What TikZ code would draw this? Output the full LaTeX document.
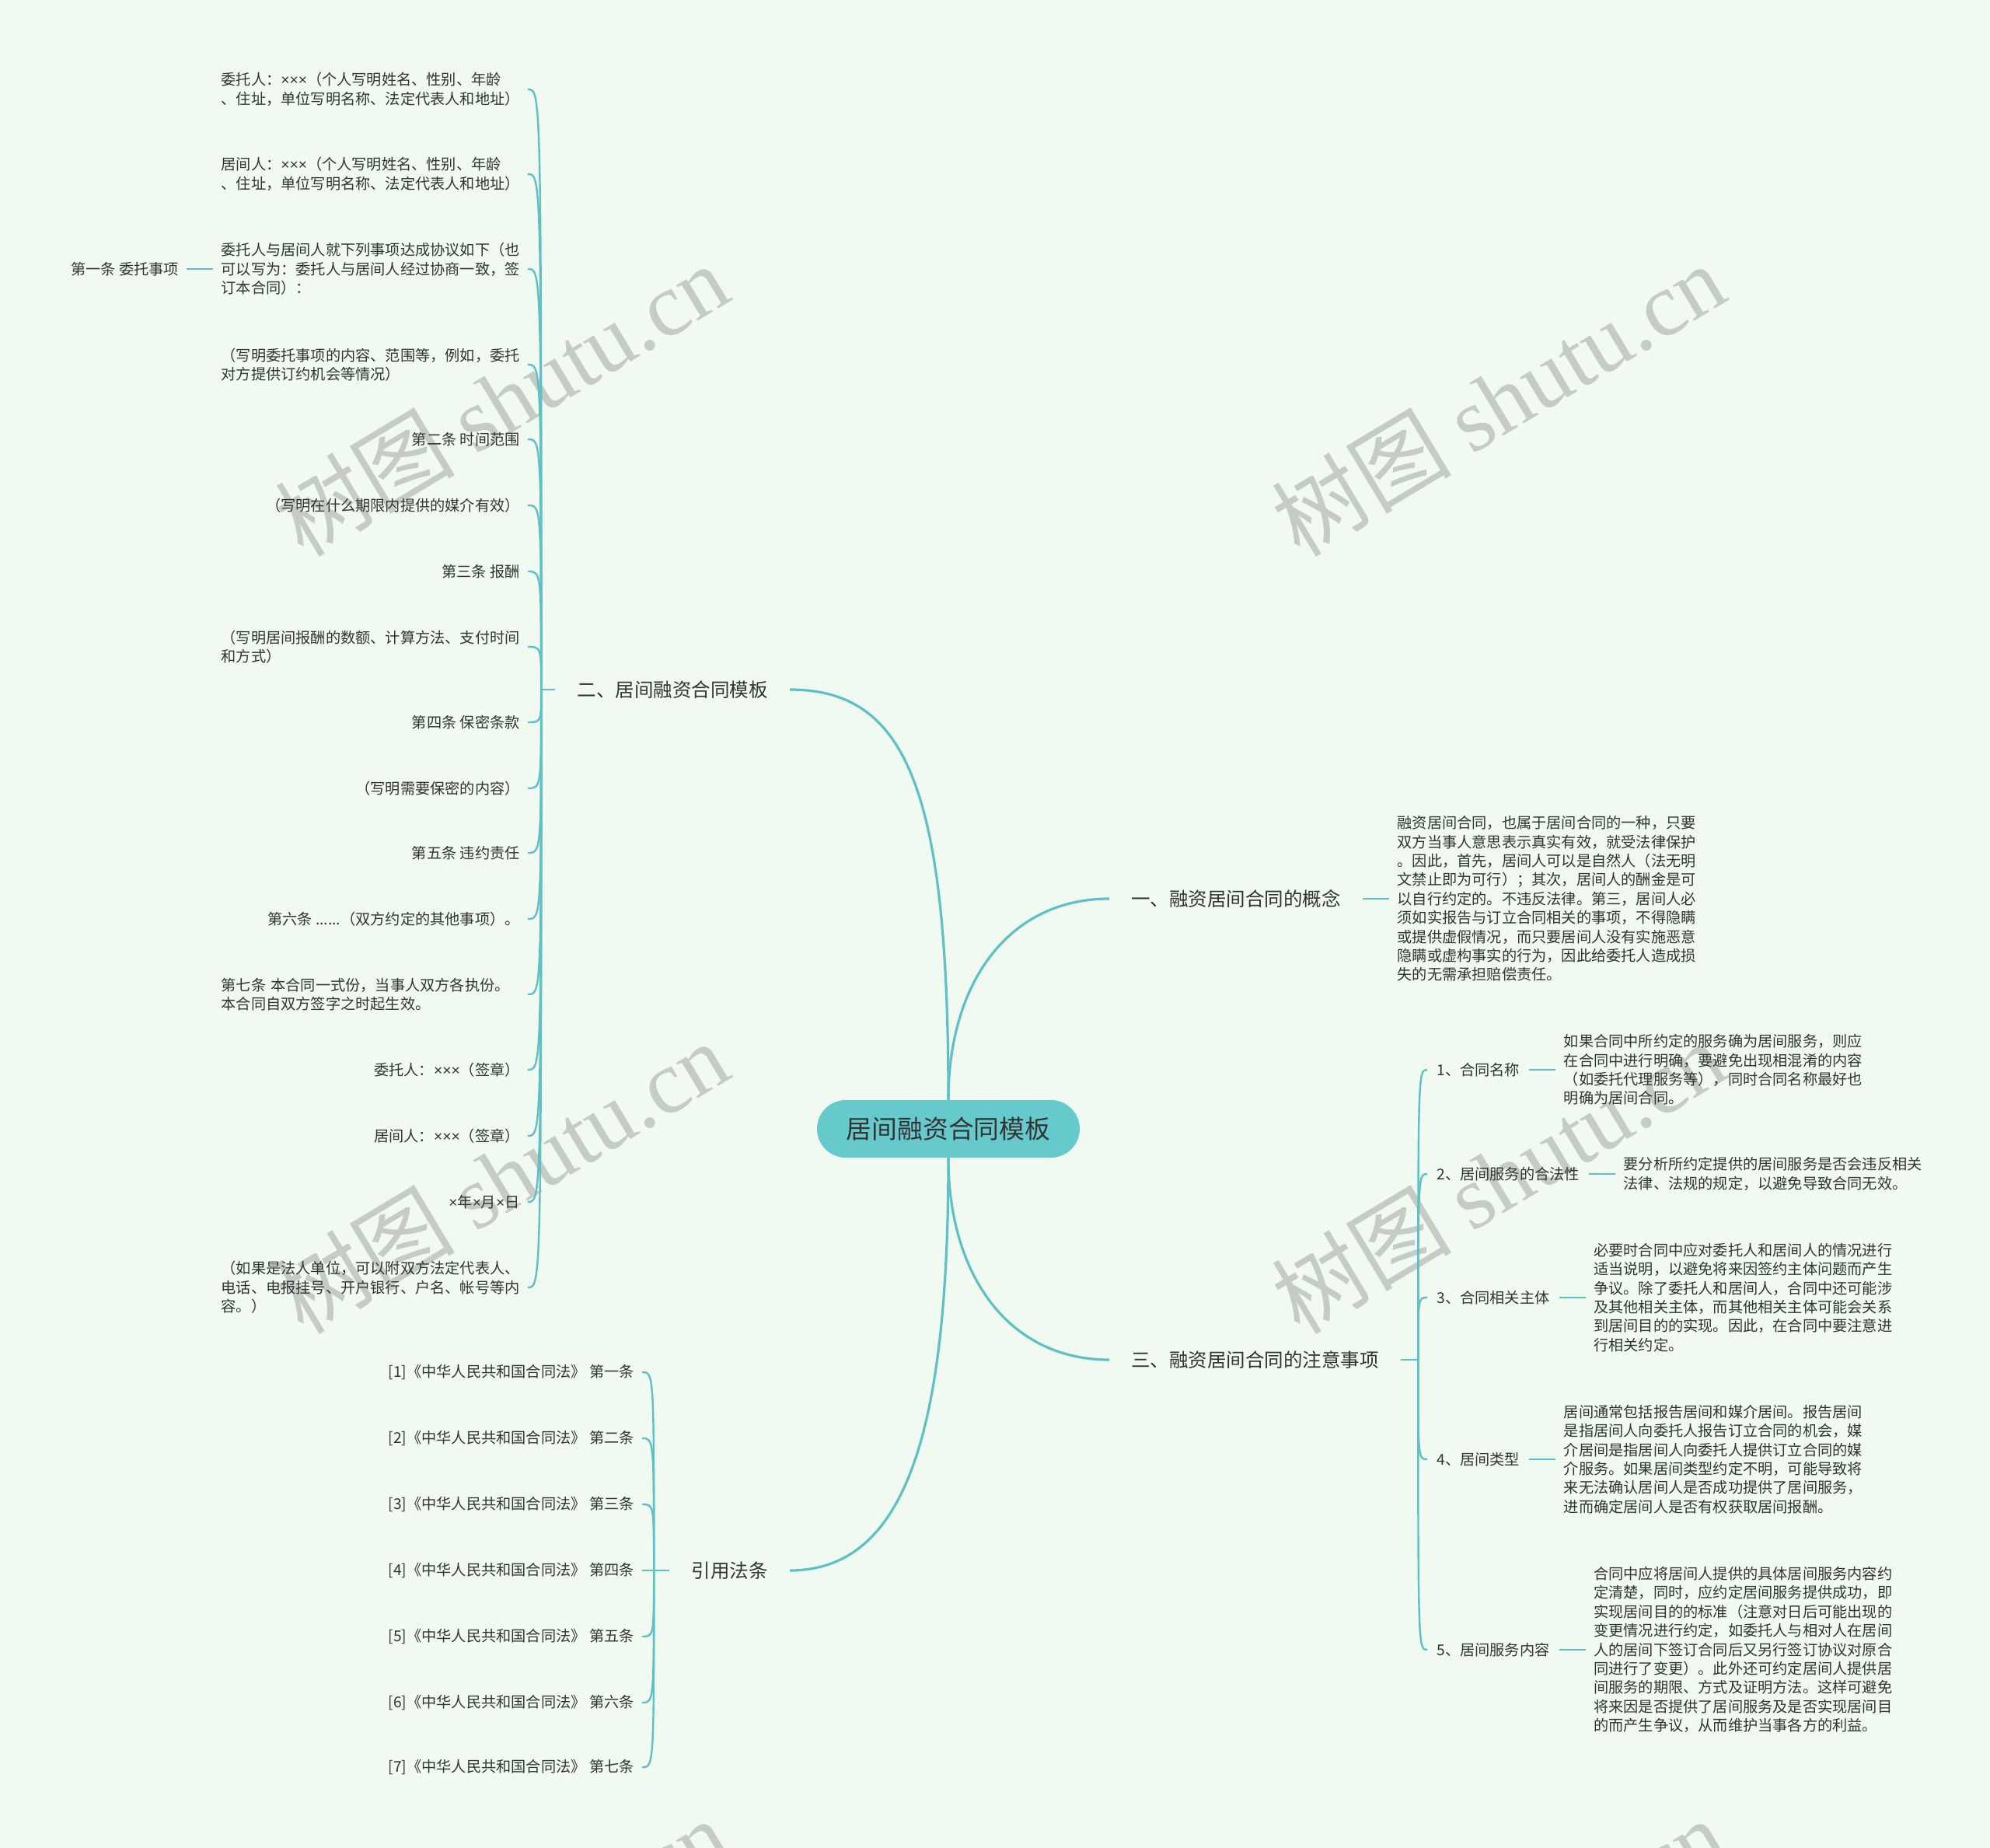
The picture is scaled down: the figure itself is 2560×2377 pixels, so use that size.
\documentclass[tikz,border=0pt]{standalone}
\usepackage{fontspec}
\setmainfont{Noto Sans CJK SC}
\newfontfamily\wmserif{Liberation Serif}
\newfontfamily\narrowlatin{Liberation Sans}
\newcommand\tms{{\narrowlatin ×}}
\usetikzlibrary{positioning}

\definecolor{bgmint}{HTML}{F0FAF1}
\definecolor{tealline}{HTML}{5FC1C6}
\definecolor{rootfill}{HTML}{66CACD}
\definecolor{inkgray}{HTML}{333333}
\definecolor{wmgray}{HTML}{C6CBC6}

\tikzset{
  rootbox/.style={fill=rootfill, rounded corners=18.5pt, minimum width=169pt, minimum height=37pt, text=inkgray, font=\fontsize{16.4pt}{19pt}\selectfont},
  branch/.style={inner xsep=14pt, inner ysep=3pt, text=inkgray, font=\fontsize{12.25pt}{15pt}\selectfont},
  subbranch/.style={inner xsep=6pt, inner ysep=2pt, text=inkgray, font=\fontsize{9.6pt}{12.2pt}\selectfont},
  leaf/.style={inner xsep=5pt, inner ysep=2pt, text=inkgray, font=\fontsize{9.6pt}{12.2pt}\selectfont},
  para/.style={leaf, text width=192pt, align=left},
  trunk/.style={draw=tealline, line width=1.6pt},
  twig/.style={draw=tealline, line width=1.2pt},
  wmtext/.style={text=wmgray, rotate=31, inner sep=0pt, font=\fontsize{58pt}{64pt}\selectfont}
}

\begin{document}
\begin{tikzpicture}[x=0.5pt, y=-0.5pt]
	\fill[bgmint] (0,0) rectangle (2560,2377);
	\useasboundingbox (0,0) rectangle (2560,2377);

	% watermark
	\begin{scope}
		\clip (0,0) rectangle (2560,2377);
		\foreach \wx/\wy [count=\k] in {645/514, 1927/514, 645/1514, 1927/1514, 645/2514, 1927/2514} {
			\node[wmtext] (wm\k) at (\wx,\wy) {树图 {\wmserif shutu.cn}};
		}
	\end{scope}

	% Nodes
	\node[rootbox] (root) at (1220,1452) {居间融资合同模板};
	\node[branch, anchor=east] (b2) at (1016,887) {二、居间融资合同模板};
	\node[branch, anchor=west] (b1) at (1427,1156) {一、融资居间合同的概念};
	\node[branch, anchor=west] (b3) at (1427,1749) {三、融资居间合同的注意事项};
	\node[branch, anchor=east] (b4) at (1016,2020) {引用法条};

	\coordinate[left=9pt of b2] (hubL);
	\coordinate[right=11pt of b3] (hubR);
	\coordinate[left=10pt of b4] (hubQ);

	% left side
	\node[para, anchor=east] (l1) at (679,115) {委托人：\tms\tms\tms（个人写明姓名、性别、年龄\\、住址，单位写明名称、法定代表人和地址）};
	\node[para, anchor=east] (l2) at (679,224) {居间人：\tms\tms\tms（个人写明姓名、性别、年龄\\、住址，单位写明名称、法定代表人和地址）};
	\node[para, anchor=east] (l3) at (679,346) {委托人与居间人就下列事项达成协议如下（也\\可以写为：委托人与居间人经过协商一致，签\\订本合同）：};
	\node[para, anchor=east] (l4) at (679,469) {（写明委托事项的内容、范围等，例如，委托\\对方提供订约机会等情况）};
	\node[leaf, anchor=east] (l5) at (679,565) {第二条 时间范围};
	\node[leaf, anchor=east] (l6) at (679,650) {（写明在什么期限内提供的媒介有效）};
	\node[leaf, anchor=east] (l7) at (679,735) {第三条 报酬};
	\node[para, anchor=east] (l8) at (679,832) {（写明居间报酬的数额、计算方法、支付时间\\和方式）};
	\node[leaf, anchor=east] (l9) at (679,929) {第四条 保密条款};
	\node[leaf, anchor=east] (l10) at (679,1014) {（写明需要保密的内容）};
	\node[leaf, anchor=east] (l11) at (679,1097) {第五条 违约责任};
	\node[leaf, anchor=east] (l12) at (679,1182) {第六条 ......（双方约定的其他事项）。};
	\node[para, anchor=east] (l13) at (679,1279) {第七条 本合同一式份，当事人双方各执份。\\本合同自双方签字之时起生效。};
	\node[leaf, anchor=east] (l14) at (679,1376) {委托人：\tms\tms\tms（签章）};
	\node[leaf, anchor=east] (l15) at (679,1461) {居间人：\tms\tms\tms（签章）};
	\node[leaf, anchor=east] (l16) at (679,1546) {\tms 年\tms 月\tms 日};
	\node[para, anchor=east] (l17) at (679,1656) {（如果是法人单位，可以附双方法定代表人、\\电话、电报挂号、开户银行、户名、帐号等内\\容。）};
	\node[leaf, left=17pt of l3] (f1) {第一条 委托事项};

	% right side
	\node[para, right=17pt of b1] (c1) {融资居间合同，也属于居间合同的一种，只要\\双方当事人意思表示真实有效，就受法律保护\\。因此，首先，居间人可以是自然人（法无明\\文禁止即为可行）；其次，居间人的酬金是可\\以自行约定的。不违反法律。第三，居间人必\\须如实报告与订立合同相关的事项，不得隐瞒\\或提供虚假情况，而只要居间人没有实施恶意\\隐瞒或虚构事实的行为，因此给委托人造成损\\失的无需承担赔偿责任。};

	\node[subbranch, anchor=west] (s1) at (1836,1376) {1、合同名称};
	\node[subbranch, anchor=west] (s2) at (1836,1510) {2、居间服务的合法性};
	\node[subbranch, anchor=west] (s3) at (1836,1669) {3、合同相关主体};
	\node[subbranch, anchor=west] (s4) at (1836,1877) {4、居间类型};
	\node[subbranch, anchor=west] (s5) at (1836,2122) {5、居间服务内容};

	\node[para, right=17pt of s1] (r1) {如果合同中所约定的服务确为居间服务，则应\\在合同中进行明确，要避免出现相混淆的内容\\（如委托代理服务等），同时合同名称最好也\\明确为居间合同。};
	\node[para, right=17pt of s2] (r2) {要分析所约定提供的居间服务是否会违反相关\\法律、法规的规定，以避免导致合同无效。};
	\node[para, right=17pt of s3] (r3) {必要时合同中应对委托人和居间人的情况进行\\适当说明，以避免将来因签约主体问题而产生\\争议。除了委托人和居间人，合同中还可能涉\\及其他相关主体，而其他相关主体可能会关系\\到居间目的的实现。因此，在合同中要注意进\\行相关约定。};
	\node[para, right=17pt of s4] (r4) {居间通常包括报告居间和媒介居间。报告居间\\是指居间人向委托人报告订立合同的机会，媒\\介居间是指居间人向委托人提供订立合同的媒\\介服务。如果居间类型约定不明，可能导致将\\来无法确认居间人是否成功提供了居间服务，\\进而确定居间人是否有权获取居间报酬。};
	\node[para, right=17pt of s5] (r5) {合同中应将居间人提供的具体居间服务内容约\\定清楚，同时，应约定居间服务提供成功，即\\实现居间目的的标准（注意对日后可能出现的\\变更情况进行约定，如委托人与相对人在居间\\人的居间下签订合同后又另行签订协议对原合\\同进行了变更）。此外还可约定居间人提供居\\间服务的期限、方式及证明方法。这样可避免\\将来因是否提供了居间服务及是否实现居间目\\的而产生争议，从而维护当事各方的利益。};

	% connectors
	\draw[trunk] (root.north) .. controls +(0,-400) and +(150,0) .. (b2.east);
	\draw[trunk] (root.north) .. controls +(0,-150) and +(-130,0) .. (b1.west);
	\draw[trunk] (root.south) .. controls +(0,150) and +(-130,0) .. (b3.west);
	\draw[trunk] (root.south) .. controls +(0,350) and +(150,0) .. (b4.east);
	\draw[twig] (b2.west) -- (hubL);
	\draw[twig] (b3.east) -- (hubR);
	\draw[twig] (b4.west) -- (hubQ);
	\draw[twig] (b1) -- (c1);
	\draw[twig] (l3) -- (f1);

	\foreach \i in {1,...,17} {
		\draw[twig] (hubL) .. controls (hubL |- l\i.east) .. (l\i.east);
	}
	\foreach \i in {1,...,5} {
		\draw[twig] (hubR) .. controls (hubR |- s\i.west) .. (s\i.west);
		\draw[twig] (s\i) -- (r\i);
	}

	% cited articles
	\foreach \i/\cn/\y in {1/一/1765, 2/二/1850, 3/三/1935, 4/四/2020, 5/五/2105, 6/六/2190, 7/七/2273} {
		\node[leaf, anchor=east] (q\i) at (826,\y) {[\i]《中华人民共和国合同法》 第\cn 条};
		\draw[twig] (hubQ) .. controls (hubQ |- q\i.east) .. (q\i.east);
	}
\end{tikzpicture}
\end{document}
